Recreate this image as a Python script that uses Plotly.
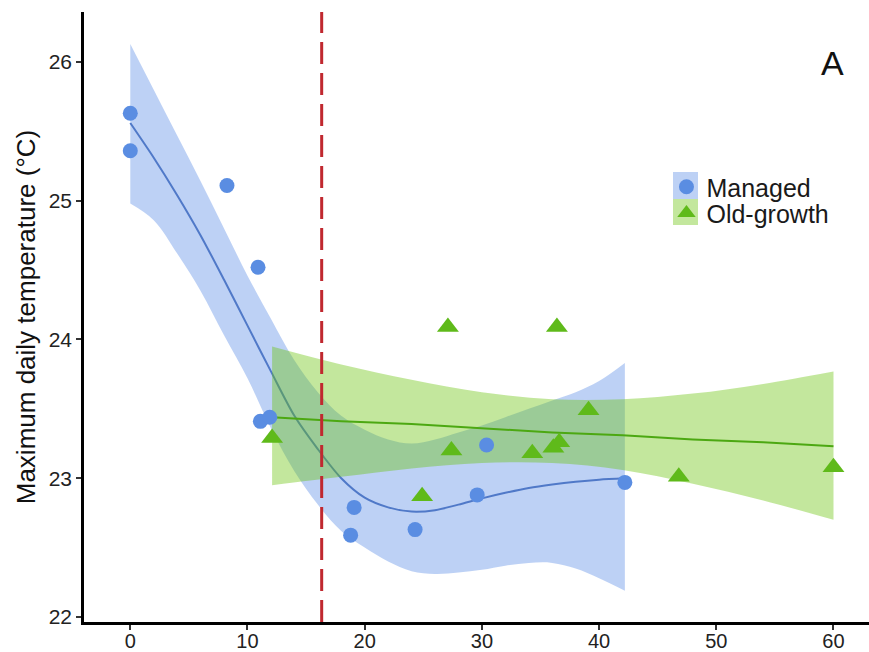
import plotly.graph_objects as go

# ---------------- data ----------------
managed_x = [0.0, 0.0, 8.25, 10.9, 11.1, 11.9, 18.8, 19.1, 24.3, 29.6, 30.4, 42.2]
managed_y = [25.63, 25.36, 25.11, 24.52, 23.41, 23.44, 22.59, 22.79, 22.63, 22.88, 23.24, 22.97]

oldgrowth_x = [12.1, 24.9, 27.1, 27.4, 34.3, 36.1, 36.6, 36.4, 39.1, 46.8, 60.0]
oldgrowth_y = [23.29, 22.87, 24.09, 23.20, 23.18, 23.22, 23.26, 24.09, 23.49, 23.01, 23.08]

# loess fit for managed stands with 95% band
managed_fit_x = [0, 2, 4, 6, 8, 10, 12, 14, 16, 18, 20, 22, 24, 26, 28, 30, 32, 34, 36, 38, 40, 42.2]
managed_fit_y = [25.56, 25.31, 25.04, 24.75, 24.43, 24.10, 23.77, 23.45, 23.21, 23.00, 22.86, 22.79, 22.76,
                 22.77, 22.81, 22.855, 22.895, 22.93, 22.955, 22.975, 22.99, 23.00]
managed_upper = [26.13, 25.80, 25.47, 25.14, 24.80, 24.46, 24.15, 23.85, 23.62, 23.45, 23.35, 23.28, 23.25,
                 23.28, 23.33, 23.38, 23.44, 23.50, 23.56, 23.62, 23.70, 23.83]
managed_lower = [24.98, 24.86, 24.62, 24.35, 24.03, 23.72, 23.36, 23.05, 22.81, 22.62, 22.50, 22.40, 22.33,
                 22.31, 22.32, 22.34, 22.37, 22.39, 22.39, 22.35, 22.28, 22.19]

# linear fit for old-growth stands with 95% band
old_fit_x = [12.1, 18, 24, 30, 36, 42, 48, 54, 60]
old_fit_y = [23.44, 23.41, 23.39, 23.36, 23.33, 23.31, 23.28, 23.26, 23.23]
old_upper = [23.95, 23.82, 23.71, 23.62, 23.57, 23.57, 23.61, 23.68, 23.77]
old_lower = [22.95, 23.01, 23.07, 23.11, 23.11, 23.06, 22.96, 22.84, 22.70]

threshold_x = 16.33
x_ticks = [0, 10, 20, 30, 40, 50, 60]
y_ticks = [22, 23, 24, 25, 26]

# ---------------- styles ----------------
FONT = "Liberation Sans, Arial, Helvetica, sans-serif"
BLUE_PT = "#5a8de2"
BLUE_LINE = "#5079c8"
BLUE_FILL = "rgba(90,140,230,0.40)"
GREEN_PT = "#5fba1a"
GREEN_LINE = "#4ca812"
GREEN_FILL = "rgba(105,195,10,0.40)"

fig = go.Figure()

# managed band + line
fig.add_trace(go.Scatter(x=managed_fit_x, y=managed_lower, mode="lines", line=dict(width=0, shape="spline"),
                         showlegend=False, hoverinfo="skip"))
fig.add_trace(go.Scatter(x=managed_fit_x, y=managed_upper, mode="lines", line=dict(width=0, shape="spline"),
                         fill="tonexty", fillcolor=BLUE_FILL, showlegend=False, hoverinfo="skip"))
fig.add_trace(go.Scatter(x=managed_fit_x, y=managed_fit_y, mode="lines",
                         line=dict(color=BLUE_LINE, width=2, shape="spline", smoothing=0.8),
                         showlegend=False))

# old-growth band + line
fig.add_trace(go.Scatter(x=old_fit_x, y=old_lower, mode="lines", line=dict(width=0, shape="spline"),
                         showlegend=False, hoverinfo="skip"))
fig.add_trace(go.Scatter(x=old_fit_x, y=old_upper, mode="lines", line=dict(width=0, shape="spline"),
                         fill="tonexty", fillcolor=GREEN_FILL, showlegend=False, hoverinfo="skip"))
fig.add_trace(go.Scatter(x=old_fit_x, y=old_fit_y, mode="lines",
                         line=dict(color=GREEN_LINE, width=2), showlegend=False))

# points
fig.add_trace(go.Scatter(x=managed_x, y=managed_y, mode="markers", name="Managed",
                         marker=dict(symbol="circle", size=15, color=BLUE_PT), legend="legend"))
fig.add_trace(go.Scatter(x=oldgrowth_x, y=oldgrowth_y, mode="markers", name="Old-growth",
                         marker=dict(symbol="triangle-up", size=19, color=GREEN_PT), legend="legend2"))

# threshold dashed line
fig.add_shape(type="line", xref="x", yref="paper", x0=threshold_x, x1=threshold_x, y0=0, y1=1,
              line=dict(color="#c0282f", width=3, dash="22px,9px"), layer="above")

# legend key backgrounds
fig.add_shape(type="rect", xref="paper", yref="paper", x0=0.7503, x1=0.7822, y0=0.6934, y1=0.7377,
              fillcolor=BLUE_FILL, line=dict(width=0), layer="below")
fig.add_shape(type="rect", xref="paper", yref="paper", x0=0.7503, x1=0.7822, y0=0.6508, y1=0.6934,
              fillcolor=GREEN_FILL, line=dict(width=0), layer="below")

fig.add_annotation(text="A", xref="paper", yref="paper", x=0.954, y=0.916, showarrow=False,
                   font=dict(family=FONT, size=34, color="#111111"), xanchor="center", yanchor="middle")

legend_common = dict(bgcolor="rgba(0,0,0,0)", borderwidth=0, xanchor="left", yanchor="middle",
                     font=dict(family=FONT, size=25, color="#1a1a1a"), itemclick=False)

fig.update_layout(
    width=869, height=652,
    margin=dict(l=84, r=0, t=12, b=30),
    paper_bgcolor="white", plot_bgcolor="white",
    template="none",
    legend=dict(x=0.742, y=0.713, **legend_common),
    legend2=dict(x=0.742, y=0.670, **legend_common),
    xaxis=dict(range=[-3.95, 63.03], tickvals=x_ticks, ticktext=[str(v) for v in x_ticks],
               showline=True, linecolor="black", linewidth=2.5, ticks="outside", ticklen=5,
               tickwidth=1.5, tickcolor="#333333", showgrid=False, zeroline=False,
               ticklabelstandoff=-6,
               tickfont=dict(family=FONT, size=20, color="#222222"), automargin=False),
    yaxis=dict(range=[21.964, 26.36], tickvals=y_ticks, ticktext=[str(v) for v in y_ticks],
               showline=True, linecolor="black", linewidth=2.5, ticks="outside", ticklen=5,
               tickwidth=1.5, tickcolor="#333333", showgrid=False, zeroline=False,
               tickfont=dict(family=FONT, size=21, color="#222222"), automargin=False,
               title=dict(text="Maximum daily temperature (°C)", standoff=6,
                          font=dict(family=FONT, size=26, color="#111111"))),
)

fig.write_html("out.html")
